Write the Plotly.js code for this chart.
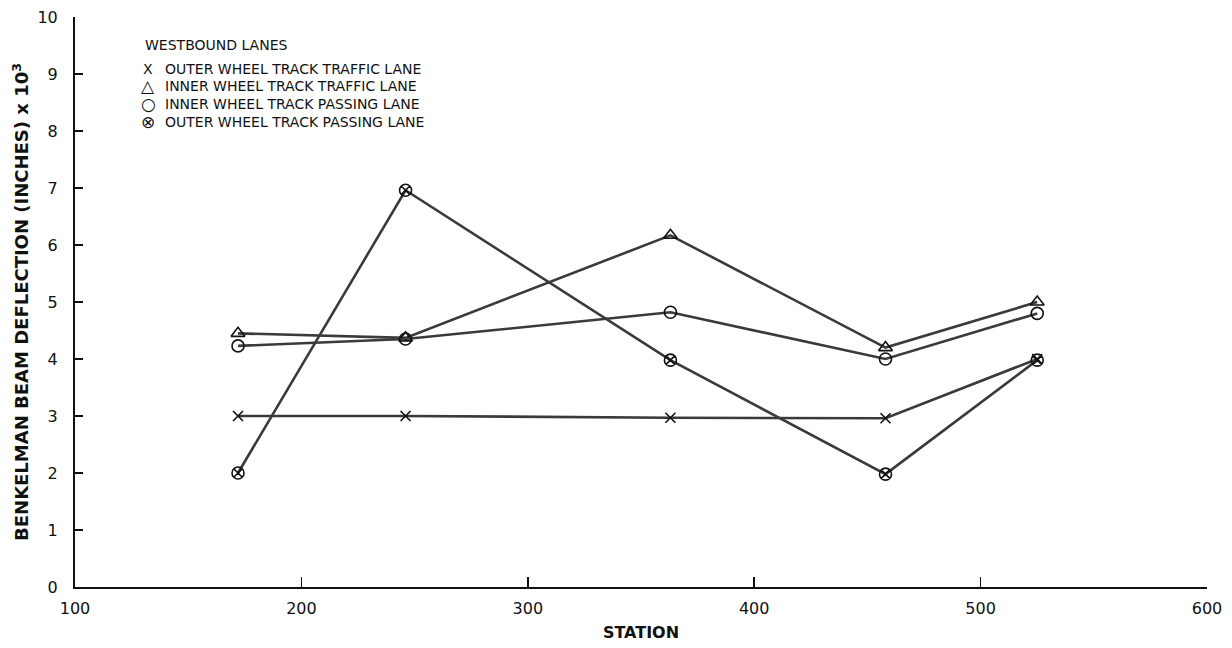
<!DOCTYPE html>
<html><head><meta charset="utf-8">
<script src="https://cdn.plot.ly/plotly-3.0.1.min.js"></script>
<style>html,body{margin:0;padding:0;background:#fff;}#chart{width:1232px;height:648px;}</style>
</head><body><div id="chart"></div>
<script>
const stations = [172, 246, 363, 458, 525];
const outerTraffic = [3.0, 3.0, 2.97, 2.96, 4.0];
const innerTraffic = [4.45, 4.37, 6.17, 4.2, 5.0];
const innerPassing = [4.23, 4.35, 4.82, 4.0, 4.8];
const outerPassing = [2.0, 6.96, 3.98, 1.98, 3.98];
const seriesNames = ["OUTER WHEEL TRACK TRAFFIC LANE", "INNER WHEEL TRACK TRAFFIC LANE", "INNER WHEEL TRACK PASSING LANE", "OUTER WHEEL TRACK PASSING LANE"];
const legendGlyphs = ["X", "\u25B3", "\u25CB", "\u2297"];
const legendTitle = "WESTBOUND LANES";
const xTicks = [100, 200, 300, 400, 500, 600];
const yTicks = [0,1,2,3,4,5,6,7,8,9,10];

const lineColor = "#3a3a3a";
const font = "DejaVu Sans, sans-serif";
const symbols = ["x-thin-open", "triangle-up-open", "circle-open", "circle-x-open"];
const sizes = [10, 12, 12, 12];
const data = [outerTraffic, innerTraffic, innerPassing, outerPassing].map((ys, i) => ({
  x: stations, y: ys, type: "scatter", mode: "lines+markers", name: seriesNames[i],
  line: {color: lineColor, width: 2.6},
  marker: {symbol: symbols[i], size: sizes[i], color: "#111", line: {width: 1.6, color: "#111"}},
  showlegend: false
}));

const annotations = [];
const legY = [0.9088, 0.8789, 0.8474, 0.8158];
annotations.push({xref:"paper", yref:"paper", x:0.0601, y:0.951, xanchor:"left", yanchor:"middle",
  text: legendTitle, showarrow:false, font:{family:font, size:14, color:"#111"}});
seriesNames.forEach((n, i) => {
  annotations.push({xref:"paper", yref:"paper", x:0.0645, y:legY[i], xanchor:"center", yanchor:"middle",
    text: legendGlyphs[i], showarrow:false, font:{family:font, size:i === 0 ? 14 : 17, color:"#111"}});
  annotations.push({xref:"paper", yref:"paper", x:0.0777, y:legY[i], xanchor:"left", yanchor:"middle",
    text: n, showarrow:false, font:{family:font, size:14, color:"#111"}});
});

const layout = {
  width: 1232, height: 648,
  margin: {l: 75, r: 25, t: 17, b: 61},
  paper_bgcolor: "#fff", plot_bgcolor: "#fff",
  showlegend: false,
  font: {family: font, color: "#111"},
  xaxis: {range: [100, 600], tickvals: xTicks, ticktext: xTicks.map(String), ticks: "inside", ticklen: 10, tickwidth: 1.5,
    tickcolor: "#111", showline: true, linecolor: "#111", linewidth: 2, showgrid: false, zeroline: false,
    tickfont: {size: 16, family: font}, ticklabelstandoff: 6,
    title: {text: "<b>STATION</b>", font: {size: 16, family: font}, standoff: 10}},
  yaxis: {range: [0, 10], tickvals: yTicks, ticktext: yTicks.map(String), ticks: "inside", ticklen: 8, tickwidth: 1.5,
    tickcolor: "#111", showline: true, linecolor: "#111", linewidth: 2, showgrid: false, zeroline: false,
    tickfont: {size: 16, family: font}, ticklabelstandoff: 12,
    title: {text: "<b>BENKELMAN BEAM DEFLECTION (INCHES) x 10<sup>3</sup></b>", font: {size: 18, family: font}, standoff: 4}},
  annotations: annotations
};
Plotly.newPlot("chart", data, layout, {displayModeBar: false, staticPlot: true});
</script></body></html>
